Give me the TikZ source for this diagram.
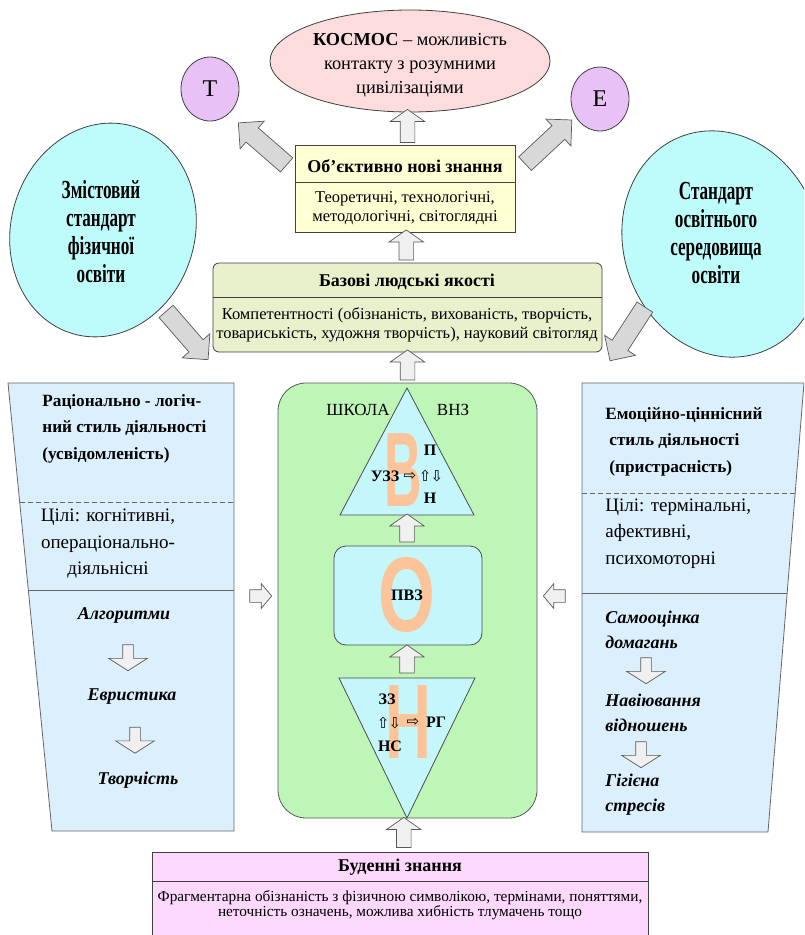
\documentclass[tikz,border=0pt]{standalone}
\usepackage{fontspec}
\setmainfont{Liberation Serif}
\newfontfamily\tallfont{Liberation Serif}[FakeStretch=0.66]
\newfontfamily\letterfont{Liberation Sans}
\newfontfamily\symfont{DejaVu Sans}
\usepackage{xcolor}
\usetikzlibrary{arrows.meta,positioning,shapes.geometric,shapes.arrows,calc}

\definecolor{kosmosfill}{HTML}{FCDCDC}
\definecolor{violetfill}{HTML}{E8C2F6}
\definecolor{objfill}{HTML}{FFFFD4}
\definecolor{basefill}{HTML}{E8F0CC}
\definecolor{cyanfill}{HTML}{BEFCFC}
\definecolor{panelfill}{HTML}{DCEFFC}
\definecolor{schoolfill}{HTML}{BEF6B8}
\definecolor{innerfill}{HTML}{C4F6FC}
\definecolor{letterfill}{HTML}{FCC498}
\definecolor{dailyfill}{HTML}{FDD8FD}
\definecolor{arrowfill}{HTML}{D8D8D8}

\begin{document}
\begin{tikzpicture}[
x=1pt, y=-1pt, line width=0.8pt,
shapebox/.style={draw=black!75, inner sep=0pt},
headtxt/.style={font=\fontsize{18}{22}\selectfont\bfseries, inner sep=0pt},
bodytxt/.style={font=\fontsize{16.5}{19}\selectfont, align=center, inner sep=0pt},
paneltitle/.style={font=\fontsize{17.2}{26.5}\selectfont\bfseries, align=left, inner sep=0pt},
paneltext/.style={font=\fontsize{19}{26.5}\selectfont, inner sep=0pt},
stepname/.style={font=\fontsize{18}{25}\selectfont\bfseries\itshape, align=left, inner sep=0pt},
elltxt/.style={font=\tallfont\bfseries\fontsize{26}{28}\selectfont, align=center, inner sep=0pt},
trilabel/.style={font=\fontsize{16}{18}\selectfont\bfseries, inner sep=0pt},
arrglyph/.style={font=\symfont\fontsize{15}{15}\selectfont, inner sep=0pt},
bigletter/.style={font=\letterfont\bfseries\fontsize{106}{106}\selectfont, text=letterfill, inner sep=0pt},
blockarr/.style={single arrow, draw=black!65, fill=arrowfill, inner xsep=0pt, line width=0.7pt},
uparr/.style={blockarr, fill=black!6, inner ysep=7, single arrow head extend=10, single arrow tip angle=110, minimum height=30, rotate=90},
diagarr/.style={blockarr, inner ysep=9, single arrow head extend=9, minimum height=64},
downarr/.style={blockarr, fill=black!6, inner ysep=5, single arrow head extend=14, single arrow tip angle=115, minimum height=26, rotate=-90},
sidearr/.style={blockarr, fill=black!6, inner ysep=6, single arrow head extend=6, single arrow tip angle=100, minimum height=22}
]
\useasboundingbox (0,0) rectangle (804,935);
\clip (0,0) rectangle (804,935);

\node[ellipse, shapebox, fill=kosmosfill, minimum width=280, minimum height=102] (kosmos) at (410,61) {};
\node[font=\fontsize{18.3}{24}\selectfont, align=center, inner sep=0pt] (kosmostext) at (410,65) {\textbf{КОСМОС} – можливість\\контакту з розумними\\цивілізаціями};
\node[ellipse, shapebox, fill=violetfill, minimum width=58, minimum height=64, font=\fontsize{24}{24}\selectfont] (tnode) at (210,89) {Т};
\node[ellipse, shapebox, fill=violetfill, minimum width=58, minimum height=64, font=\fontsize{24}{24}\selectfont] (enode) at (600,99) {Е};

\node[ellipse, shapebox, fill=cyanfill, minimum width=184, minimum height=216, rotate=-16] (zmist) at (103,230) {};
\node[elltxt] (zmisttext) at (101,232) {Змістовий\\стандарт\\фізичної\\освіти};
\node[ellipse, shapebox, fill=cyanfill, minimum width=196, minimum height=230, rotate=20] (stand) at (722,244) {};
\node[elltxt] (standtext) at (716,233) {Стандарт\\освітнього\\середовища\\освіти};

\node[shapebox, fill=objfill, minimum width=220, minimum height=87] (objn) at (405,188.5) {};
\draw[black!75] ($(objn.north west)+(0,38)$) -- ($(objn.north east)+(0,38)$);
\node[headtxt] (objtitle) at (405,166) {Об’єктивно нові знання};
\node[bodytxt] (objtext) at (405,208) {Теоретичні, технологічні,\\методологічні, світоглядні};

\node[shapebox, rounded corners=6, fill=basefill, minimum width=389, minimum height=89] (base) at (407.5,307.5) {};
\draw[black!75] ($(base.north west)+(0,35)$) -- ($(base.north east)+(0,35)$);
\node[headtxt] (basetitle) at (407,282) {Базові людські якості};
\node[bodytxt] (basetext) at (407,325) {Компетентності (обізнаність, вихованість, творчість,\\товариськість, художня творчість), науковий світогляд};

\node[uparr, minimum height=33] (up1) at ($(objn.north)!0.5!(kosmos.south)$) {};
\node[uparr] (up2) at ($(base.north)!0.5!(objn.south)$) {};
\node[diagarr, rotate=139] (totnode) at (266,147) {};
\node[diagarr, rotate=43] (toenode) at (545,145) {};
\node[diagarr, rotate=-49] (fromzmist) at (184,332) {};
\node[diagarr, rotate=-123] (fromstand) at (630,330) {};

\draw[draw=black!60, fill=panelfill] (8,383) -- (234,383) -- (234,831) -- (52,831) -- cycle;
\draw[black!60, dash pattern=on 5pt off 3pt] (19.7,502) -- (234,502);
\draw[black!60] (28.3,590) -- (234,590);
\node[paneltitle, anchor=west] (ratio) at (42,428.5) {Раціонально - логіч-\\ний стиль діяльності\\(усвідомленість)};
\node[paneltext, align=center] (ratiogoal) at (108,544) {Цілі: когнітивні,\\операціонально-\\діяльнісні};
\node[stepname] (algo) at (124,615) {Алгоритми};
\node[stepname] (heur) at (132,697) {Евристика};
\node[stepname] (creat) at (138,780) {Творчість};
\node[downarr] (dl1) at ($(algo)!0.5!(heur)$) {};
\node[downarr] (dl2) at ($(heur)!0.5!(creat)$) {};

\draw[draw=black!60, fill=panelfill] (582,383) -- (804,383) -- (768,832) -- (582,832) -- cycle;
\draw[black!60, dash pattern=on 5pt off 3pt] (582,493) -- (795.2,493);
\draw[black!60] (582,593) -- (787.2,593);
\node[paneltitle, anchor=west] (emo) at (605,441.5) {Емоційно-ціннісний\\\hspace{4pt}стиль діяльності\\\hspace{4pt}(пристрасність)};
\node[paneltext, align=left, anchor=west] (emogoal) at (605,533.5) {Цілі: термінальні,\\афективні,\\психомоторні};
\node[stepname, anchor=west] (selfest) at (605,629.5) {Самооцінка\\домагань};
\node[stepname, anchor=west] (suggest) at (605,712.5) {Навіювання\\відношень};
\node[stepname, anchor=west] (hygiene) at (605,795) {Гігієна\\стресів};
\node[downarr] (dr1) at (646,669) {};
\node[downarr] (dr2) at (641,753) {};

\node[shapebox, draw=black!65, fill=schoolfill, rounded corners=28, minimum width=259, minimum height=435] (school) at (407.5,600.5) {};
\node[uparr] (up3) at ($(school.north)!0.5!(base.south)$) {};
\node[sidearr] (sl) at (258,596) {};
\node[sidearr, rotate=180] (sr) at (557,596) {};

\draw[draw=black!70, fill=innerfill] (407,388) -- (474,515) -- (340,515) -- cycle;
\node[bigletter] (letv) at (403.5,470) {\scalebox{0.49}[1]{В}};
\node[font=\fontsize{17}{18}\selectfont, inner sep=0pt] (shkola) at (358,410) {ШКОЛА};
\node[font=\fontsize{17}{18}\selectfont, inner sep=0pt] (vnz) at (453,410) {ВНЗ};
\node[trilabel] (pl) at (430,450) {П};
\node[trilabel] (uzz) at (385,476) {УЗЗ};
\node[arrglyph] (ra1) at (410,476) {⇨};
\node[arrglyph] (ud1) at (431,476) {⇧\kern-1pt⇩};
\node[trilabel] (nl) at (430,498) {Н};

\node[shapebox, draw=black!70, fill=innerfill, rounded corners=12, minimum width=148, minimum height=99] (pvz) at (408,595.5) {};
\node[bigletter] (leto) at (406.5,595) {\scalebox{0.69}[1]{О}};
\node[trilabel] (pvztext) at (407,595) {ПВЗ};
\node[uparr, minimum height=28] (up4) at (407,530.5) {};

\draw[draw=black!70, fill=innerfill] (339,678) -- (475,678) -- (407,818) -- cycle;
\node[bigletter] (letn) at (408,722.5) {\scalebox{0.6}[1]{Н}};
\node[trilabel] (zz) at (387,699) {ЗЗ};
\node[arrglyph] (ud2) at (389,723) {⇧\kern-1pt⇩};
\node[arrglyph] (ra2) at (413,722) {⇨};
\node[trilabel] (rg) at (436,722) {РГ};
\node[trilabel] (ns) at (390,746) {НС};
\node[uparr, minimum height=28] (up5) at (407,661.5) {};

\node[shapebox, fill=dailyfill, minimum width=496, minimum height=84] (daily) at (400,894) {};
\draw[black!75] ($(daily.north west)+(0,30)$) -- ($(daily.north east)+(0,30)$);
\node[headtxt] (dailytitle) at (400,867) {Буденні знання};
\node[bodytxt, font=\fontsize{15.3}{15.5}\selectfont] (dailytext) at (400,905) {Фрагментарна обізнаність з фізичною символікою, термінами, поняттями,\\неточність означень, можлива хибність тлумачень тощо};
\node[uparr] (up6) at ($(daily.north)!0.5!(school.south)$) {};
\end{tikzpicture}
\end{document}
